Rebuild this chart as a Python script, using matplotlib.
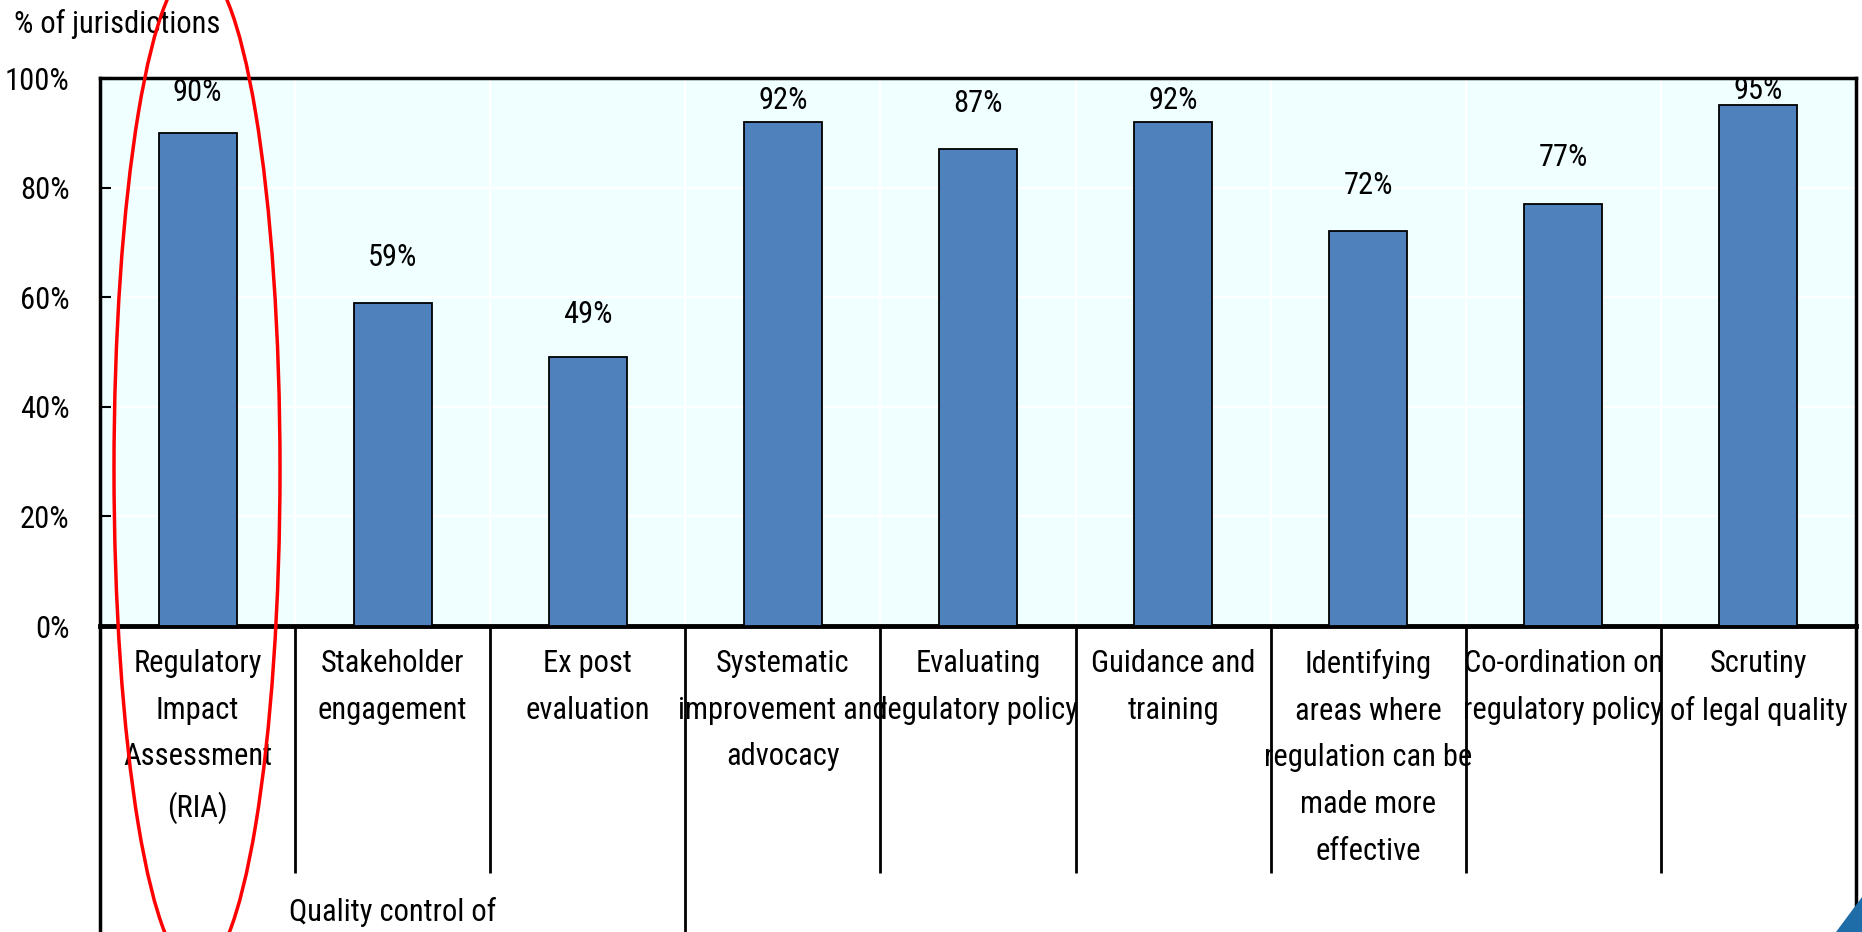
import numpy as np
import matplotlib.pyplot as plt
from matplotlib.patches import Ellipse, Polygon
import matplotlib.transforms as mtransforms

# ---------------------- Data

categories = ['Regulatory\nImpact\nAssessment\n(RIA)',
              'Stakeholder\nengagement',
              'Ex post\nevaluation',
              'Systematic\nimprovement and\nadvocacy',
              'Evaluating\nregulatory policy',
              'Guidance and\ntraining',
              'Identifying\nareas where\nregulation can be\nmade more\neffective',
              'Co-ordination on\nregulatory policy',
              'Scrutiny\nof legal quality']
share = [90, 59, 49, 92, 87, 92, 72, 77, 95]
group_labels = ['Quality control of']
yticks = [0, 20, 40, 60, 80, 100]

# label centre above bar top (in % units)
label_gap = [7.4, 8.2, 7.8, 3.9, 8.4, 3.9, 8.3, 8.5, 2.8]

# ---------------------- Style

plt.rcParams['font.family'] = ['Roboto Condensed', 'DejaVu Sans']
fs = 22
W, H = 1862, 932
barColor = '#4F81BD'
bgColor = '#F0FFFF'

fig = plt.figure(figsize=(W/100, H/100), dpi=100)
ax = fig.add_axes([100/W, 1-626/H, 1756/W, 548/H])

x = np.arange(len(share))
ax.set_facecolor(bgColor)
ax.bar(x, share, width=0.4, color=barColor, edgecolor='black',
       linewidth=1.3, zorder=3)

for xi, v, g in zip(x, share, label_gap):
    ax.text(xi, v + g, f'{v}%', ha='center', va='center', fontsize=fs,
            zorder=4)

ax.set_xlim(-0.5, len(share) - 0.5)
ax.set_ylim(0, 100)
ax.set_yticks(yticks)
ax.set_yticklabels([f'{t}%' for t in yticks], fontsize=fs)
ax.tick_params(axis='y', direction='in', length=8, width=1.5, pad=22)
ax.set_xticks([])

# white grid on the shaded plot area
for t in yticks[1:-1]:
    ax.axhline(t, color='white', linewidth=1.5, zorder=1)
for b in x[:-1] + 0.5:
    ax.axvline(b, color='white', linewidth=1.5, zorder=1)

for s in ['top', 'left', 'right']:
    ax.spines[s].set_linewidth(2.5)
ax.spines['bottom'].set_linewidth(3.5)

# ---------------------- Category table under the axis

trans = mtransforms.blended_transform_factory(ax.transData, ax.transAxes)
short_end = -(873 - 626) / 548
for b in np.arange(len(share) + 1) - 0.5:
    long_line = b in (-0.5, 2.5, len(share) - 0.5)
    y_end = -0.7 if long_line else short_end
    lw = 2.5 if b in (-0.5, len(share) - 0.5) else 2
    ax.plot([b, b], [0, y_end], color='black', linewidth=lw,
            transform=trans, clip_on=False, solid_capstyle='butt')

for xi, c in zip(x, categories):
    ax.text(xi, -0.042, c, ha='center', va='top', fontsize=fs,
            linespacing=1.77, transform=trans)

ax.text(1, -(897 - 626) / 548, group_labels[0], ha='center', va='top',
        fontsize=fs, transform=trans)

fig.text(14/W, 1-24/H, '% of jurisdictions', ha='left', va='center',
         fontsize=fs)

# red highlight round the RIA bar
fig.patches.append(Ellipse((197/W, 1-469/H), 166/W, 1006/H,
                           transform=fig.transFigure, fill=False,
                           edgecolor='red', linewidth=2.5, zorder=10))

# corner of the logo
fig.patches.append(Polygon([(1836/W, 0), (1.0, 0), (1.0, 35/H)],
                           closed=True, transform=fig.transFigure,
                           facecolor='#1F6DA8', edgecolor='none'))

plt.savefig('out.png', dpi=100)
